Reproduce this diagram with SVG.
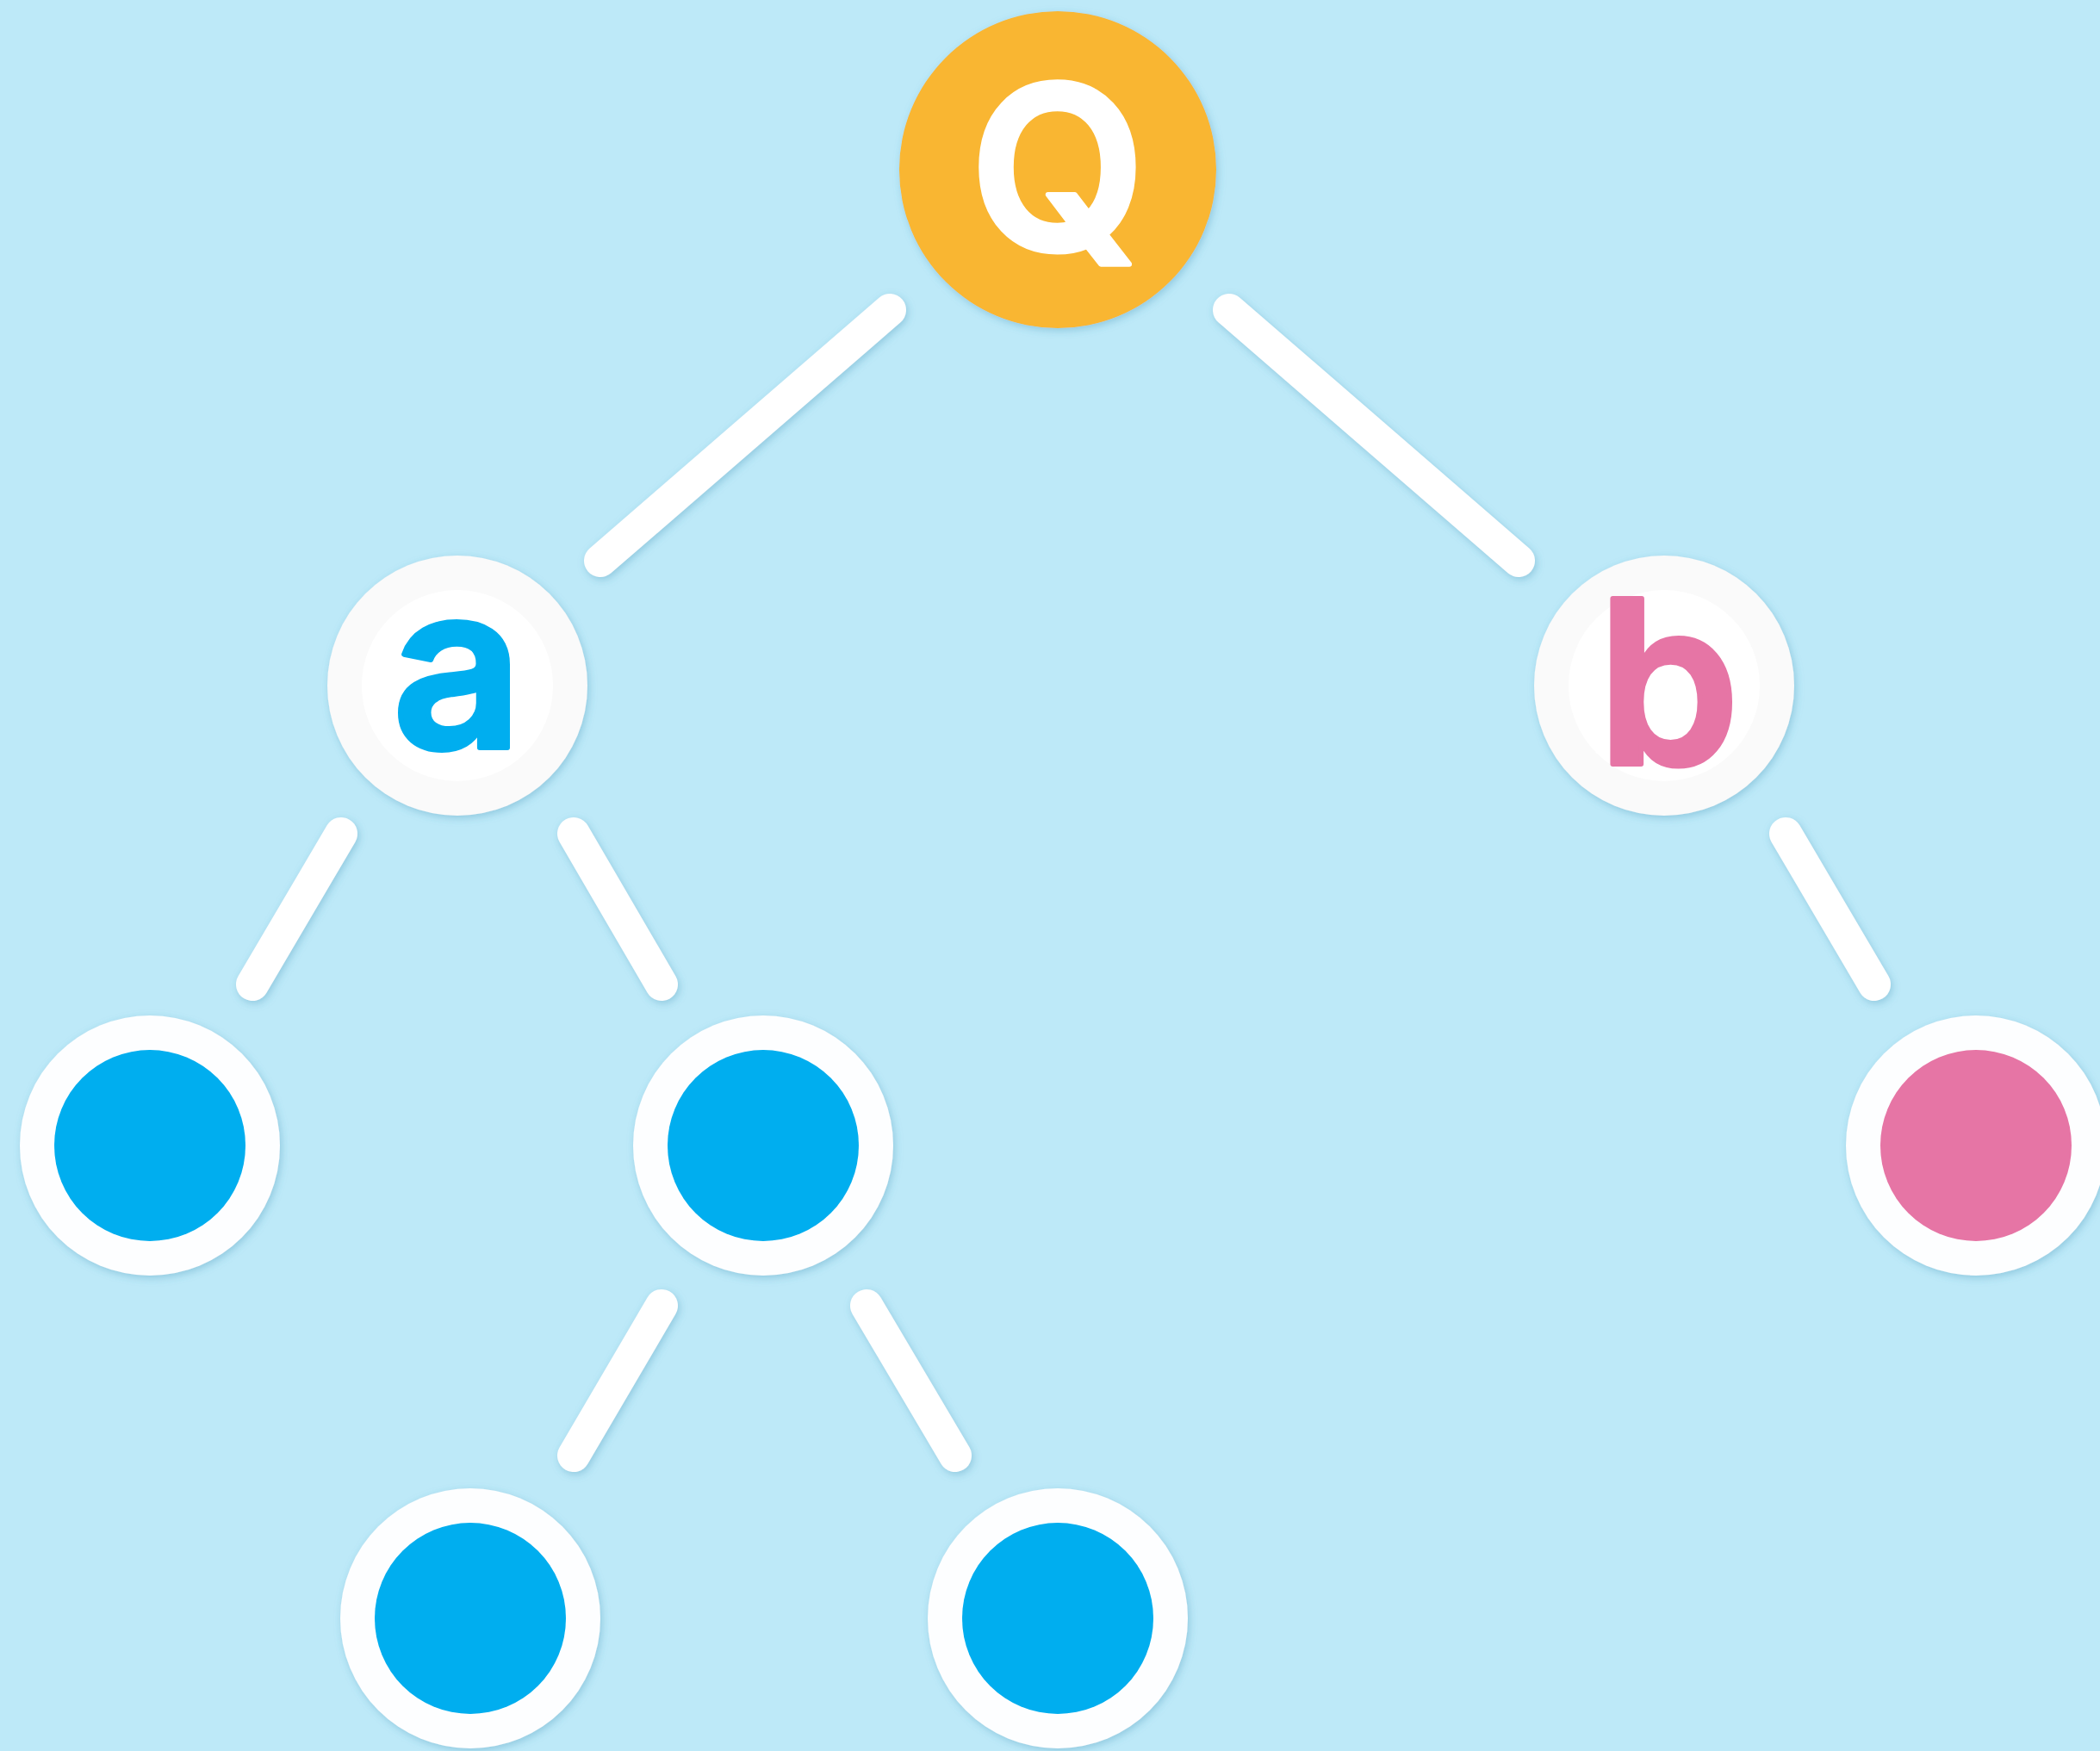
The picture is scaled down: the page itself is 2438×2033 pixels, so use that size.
<svg xmlns="http://www.w3.org/2000/svg" width="2438" height="2033" viewBox="0 0 2438 2033">
  <defs>
    <filter id="sh" x="-20%" y="-20%" width="140%" height="140%">
      <feDropShadow dx="2" dy="3" stdDeviation="5" flood-color="#3d8fb0" flood-opacity="0.35"/>
    </filter>
    <style>
      .edge { stroke: #ffffff; stroke-width: 38; stroke-linecap: round; fill: none; }
      .ring { fill: #fdfeff; }
      .lbl { font-family: Inter, "Noto Sans", "Liberation Sans", sans-serif; font-weight: 600; font-size: 264px; text-anchor: middle; stroke-width: 6; stroke-linejoin: round; }
    </style>
  </defs>
  <rect width="2438" height="2033" fill="#bde9f8"/>

  <g id="connectors" filter="url(#sh)">
    <line class="edge" x1="1033" y1="360" x2="697" y2="651"/>
    <line class="edge" x1="1427" y1="360" x2="1763" y2="651"/>
    <line class="edge" x1="396" y1="968" x2="293" y2="1143"/>
    <line class="edge" x1="666" y1="968" x2="768" y2="1143"/>
    <line class="edge" x1="2073" y1="968" x2="2176" y2="1143"/>
    <line class="edge" x1="768" y1="1516" x2="666" y2="1690"/>
    <line class="edge" x1="1006" y1="1516" x2="1109" y2="1690"/>
  </g>

  <g id="node-Q" filter="url(#sh)">
    <circle cx="1228" cy="197" r="184" fill="#f9b631"/>
    <text class="lbl" x="1228" y="290" fill="#ffffff" stroke="#ffffff">Q</text>
  </g>

  <g id="node-a" filter="url(#sh)">
    <circle cx="531" cy="796" r="151" fill="#fafafa"/>
    <circle cx="531" cy="796" r="111" fill="#ffffff"/>
    <text class="lbl" x="531" y="868" fill="#00aeef" stroke="#00aeef">a</text>
  </g>

  <g id="node-b" filter="url(#sh)">
    <circle cx="1932" cy="796" r="151" fill="#fafafa"/>
    <circle cx="1932" cy="796" r="111" fill="#ffffff"/>
    <text class="lbl" x="1937" y="887" fill="#e675a5" stroke="#e675a5">b</text>
  </g>

  <g id="node-a1" filter="url(#sh)">
    <circle class="ring" cx="174" cy="1330" r="151"/>
    <circle cx="174" cy="1330" r="111" fill="#00aeef"/>
  </g>

  <g id="node-a2" filter="url(#sh)">
    <circle class="ring" cx="886" cy="1330" r="151"/>
    <circle cx="886" cy="1330" r="111" fill="#00aeef"/>
  </g>

  <g id="node-b1" filter="url(#sh)">
    <circle class="ring" cx="2294" cy="1330" r="151"/>
    <circle cx="2294" cy="1330" r="111" fill="#e675a5"/>
  </g>

  <g id="node-a21" filter="url(#sh)">
    <circle class="ring" cx="546" cy="1879" r="151"/>
    <circle cx="546" cy="1879" r="111" fill="#00aeef"/>
  </g>

  <g id="node-a22" filter="url(#sh)">
    <circle class="ring" cx="1228" cy="1879" r="151"/>
    <circle cx="1228" cy="1879" r="111" fill="#00aeef"/>
  </g>
</svg>
